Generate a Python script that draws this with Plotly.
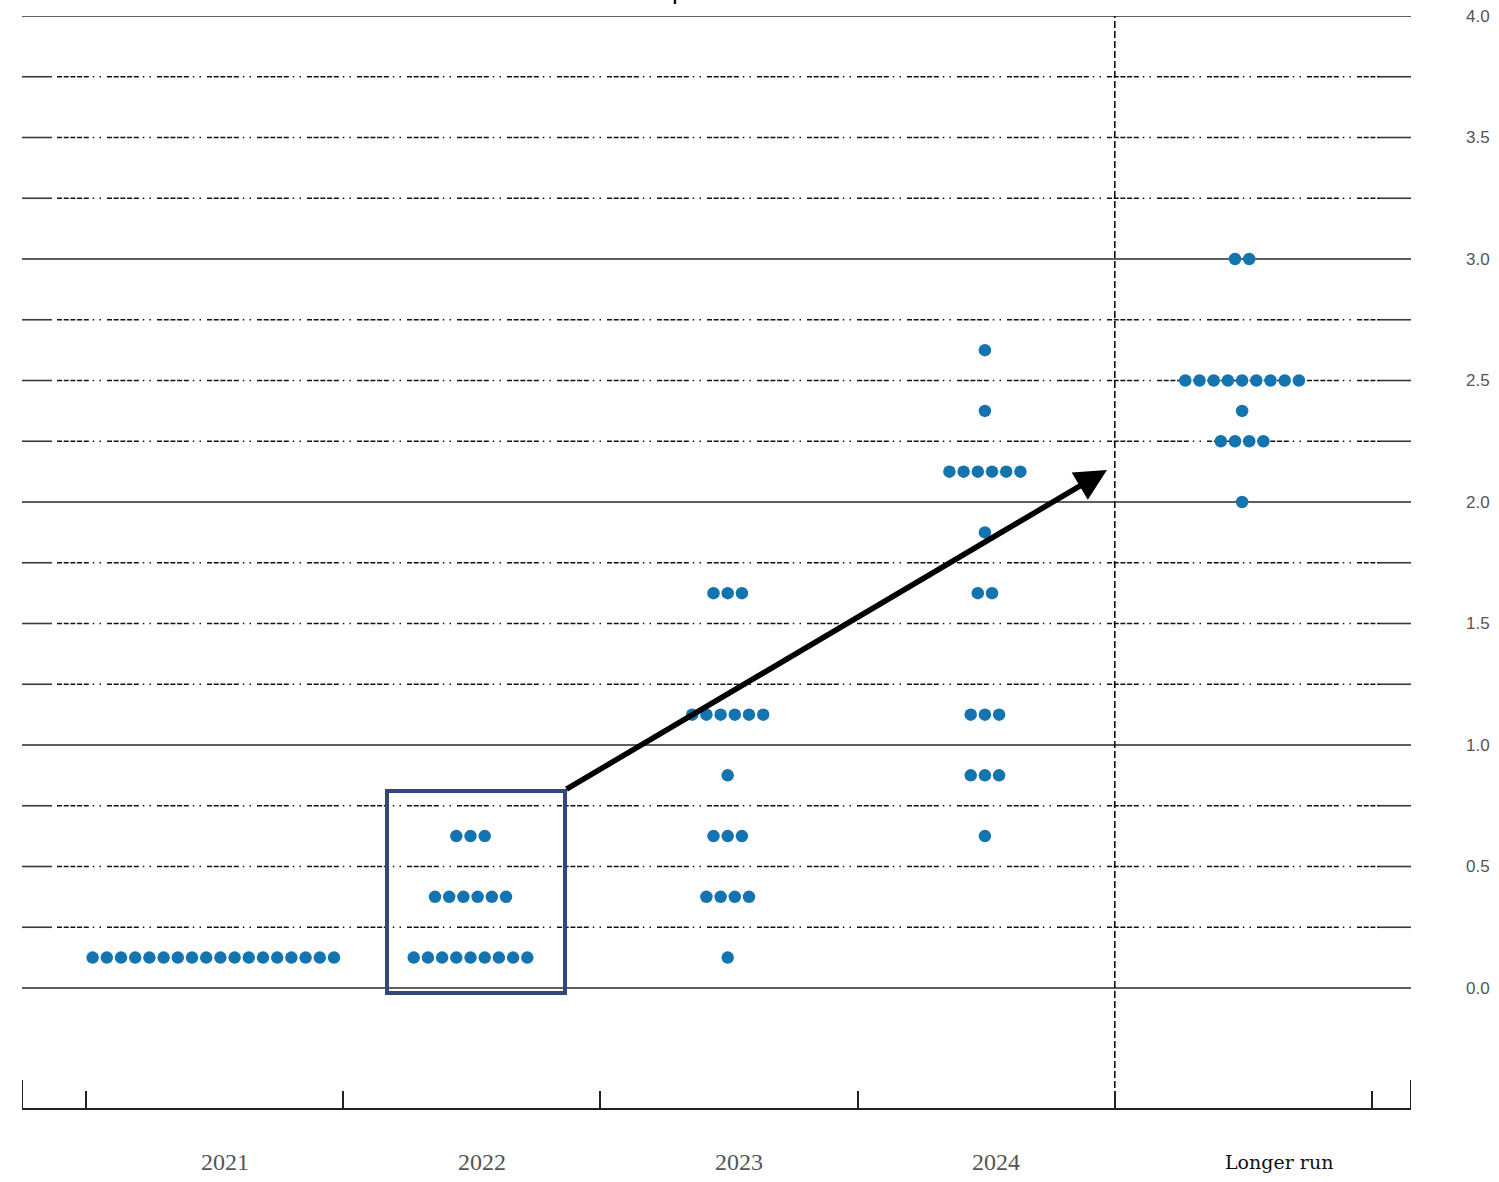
import plotly.graph_objects as go

# ---------------- data ----------------
categories = ["2021", "2022", "2023", "2024", "Longer run"]
# each entry: (rate midpoint, number of participants)
dots_2021 = [(0.125, 18)]
dots_2022 = [(0.625, 3), (0.375, 6), (0.125, 9)]
dots_2023 = [(1.625, 3), (1.125, 6), (0.875, 1), (0.625, 3), (0.375, 4), (0.125, 1)]
dots_2024 = [(2.625, 1), (2.375, 1), (2.125, 6), (1.875, 1), (1.625, 2),
             (1.125, 3), (0.875, 3), (0.625, 1)]
dots_longer = [(3.0, 2), (2.5, 9), (2.375, 1), (2.25, 4), (2.0, 1)]
all_dots = [dots_2021, dots_2022, dots_2023, dots_2024, dots_longer]

ytick_vals = [0.0, 0.5, 1.0, 1.5, 2.0, 2.5, 3.0, 3.5, 4.0]
ytick_text = ["0.0", "0.5", "1.0", "1.5", "2.0", "2.5", "3.0", "3.5", "4.0"]
grid_vals = [i * 0.25 for i in range(17)]

# ---------------- geometry helpers ----------------
W, H = 1499, 1182
L, R, T, B = 22, 1411, 16, 1108
PX_PER_X = 257.2      # px per category
X0_PX = 86            # px of x=0
PX_PER_Y = 243.0
Y0_PX = 988
def px_x(p):
    return (p - X0_PX) / PX_PER_X
def px_y(p):
    return (Y0_PX - p) / PX_PER_Y
def paper_x(p):
    return (p - L) / (R - L)
def paper_y(p):
    return (B - p) / (B - T)

XMIN, XMAX = px_x(L), px_x(R)
YMIN, YMAX = px_y(B), 4.0
DOT_STEP = 14.2 / PX_PER_X
DOT_CENTER = 0.495

xs, ys = [], []
for ci, rows in enumerate(all_dots):
    for val, n in rows:
        for k in range(n):
            xs.append(ci + DOT_CENTER + (k - (n - 1) / 2) * DOT_STEP)
            ys.append(val)

fig = go.Figure()
fig.add_trace(go.Scatter(x=xs, y=ys, mode="markers",
                         marker=dict(size=12.5, color="#1474b0", line=dict(width=0)),
                         hoverinfo="y", showlegend=False, cliponaxis=False))

shapes = []
DASH = "5px,1.7px,5px,1.7px,5px,1.7px,5px,1.7px,5px,4px,1.5px,5.2px,1.5px,6px"
for g in grid_vals:
    is_int = abs(g - round(g)) < 1e-9
    if is_int:
        shapes.append(dict(type="line", xref="x", yref="y", x0=XMIN, x1=XMAX, y0=g, y1=g,
                           line=dict(color="#2a2a2a", width=1.7), layer="below"))
    else:
        shapes.append(dict(type="line", xref="x", yref="y", x0=XMIN, x1=px_x(52), y0=g, y1=g,
                           line=dict(color="#3a3a3a", width=1.6), layer="below"))
        shapes.append(dict(type="line", xref="x", yref="y", x0=px_x(57), x1=px_x(1380), y0=g, y1=g,
                           line=dict(color="#111", width=1.6, dash=DASH), layer="below"))
        shapes.append(dict(type="line", xref="x", yref="y", x0=px_x(1380), x1=XMAX, y0=g, y1=g,
                           line=dict(color="#3a3a3a", width=1.6), layer="below"))

# vertical separator before "Longer run"
shapes.append(dict(type="line", xref="x", yref="y", x0=4, x1=4, y0=YMIN, y1=YMAX,
                   line=dict(color="#111", width=1.6, dash="7px,3px"), layer="below"))
# end ticks of bottom axis
for xe in (XMIN, XMAX):
    shapes.append(dict(type="line", xref="x", yref="y", x0=xe, x1=xe, y0=YMIN, y1=px_y(1080),
                       line=dict(color="#222", width=2)))
# highlight box around 2022
shapes.append(dict(type="rect", xref="x", yref="y", x0=px_x(387), x1=px_x(565),
                   y0=px_y(993), y1=px_y(791), line=dict(color="#34467a", width=4),
                   fillcolor="rgba(0,0,0,0)"))

annotations = []
label_x = [0.54, 1.54, 2.54, 3.54, 4.64]
for cat, lx in zip(categories, label_x):
    if cat == "Longer run":
        font = dict(family="DejaVu Serif, serif", size=19, color="#111")
    else:
        font = dict(family="Liberation Serif, Times New Roman, serif", size=24, color="#555")
    annotations.append(dict(x=lx, y=paper_y(1162), xref="x", yref="paper", text=cat,
                            showarrow=False, font=font, xanchor="center", yanchor="middle"))
# arrow
annotations.append(dict(x=px_x(1107), y=px_y(470), ax=px_x(565), ay=px_y(790),
                        xref="x", yref="y", axref="x", ayref="y", text="", showarrow=True,
                        arrowhead=2, arrowsize=1.15, arrowwidth=5.5, arrowcolor="#000"))
# clipped title fragment at the very top
annotations.append(dict(x=paper_x(679), y=1.0, xref="paper", yref="paper", xanchor="center",
                        yanchor="bottom", yshift=9, text="p", showarrow=False,
                        font=dict(family="Liberation Sans, Arial", size=26, color="#000")))

fig.update_layout(
    width=W, height=H,
    margin=dict(l=L, r=W - R, t=T, b=H - B, pad=0, autoexpand=False),
    paper_bgcolor="white", plot_bgcolor="white",
    xaxis=dict(range=[XMIN, XMAX], showgrid=False, zeroline=False, showline=True,
               linecolor="#222", linewidth=2, ticks="inside", ticklen=17, tickwidth=2,
               tickcolor="#222", tickvals=[0, 1, 2, 3, 4, 5], showticklabels=False,
               mirror=False, automargin=False),
    yaxis=dict(range=[YMIN, YMAX], side="right", showgrid=False, zeroline=False,
               showline=False, tickvals=ytick_vals, ticktext=ytick_text, ticks="",
               ticklabelstandoff=54, automargin=False,
               tickfont=dict(family="Liberation Sans, Arial", size=17, color="#555")),
    shapes=shapes, annotations=annotations, showlegend=False,
)

fig.write_html("out.html", config={"displayModeBar": False},
               post_script="document.body.style.margin='0px';document.body.style.overflow='hidden';")
